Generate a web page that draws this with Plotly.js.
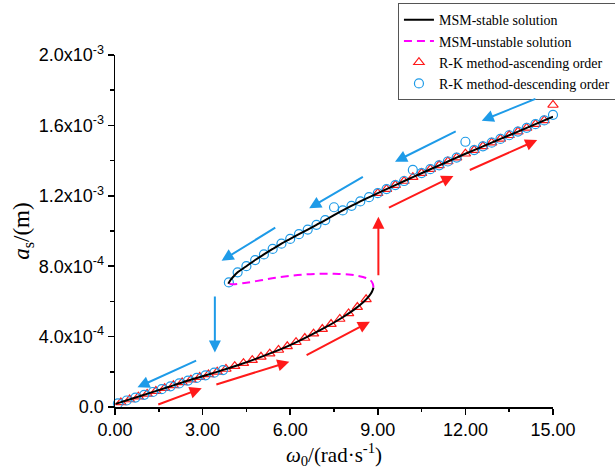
<!DOCTYPE html>
<html>
<head>
<meta charset="utf-8">
<script src="https://cdn.plot.ly/plotly-3.0.1.min.js"></script>
<style>html,body{margin:0;padding:0;background:#fff;overflow:hidden;}#chart{width:615px;height:472px;}</style>
</head>
<body>
<div id="chart"></div>
<script>
// ---- MSM stable solution: lower branch ----
const lowerX = [0.02, 0.6, 1.2, 1.8, 2.4, 3.0, 3.6, 4.2, 4.8, 5.4, 6.0, 6.6, 7.2, 7.8, 8.2, 8.5, 8.7, 8.8, 8.85];
const lowerY = [0.18e-4, 0.48e-4, 0.80e-4, 1.12e-4, 1.45e-4, 1.75e-4, 2.05e-4, 2.37e-4, 2.72e-4, 3.10e-4, 3.52e-4, 4.00e-4, 4.52e-4, 5.10e-4, 5.55e-4, 5.95e-4, 6.30e-4, 6.55e-4, 6.78e-4];
// ---- MSM stable solution: upper branch ----
const upperX = [3.88, 3.95, 4.05, 4.2, 4.5, 4.8, 5.1, 5.4, 5.7, 6.0, 6.3, 6.6, 6.9, 7.2, 7.5, 7.8, 8.4, 9.0, 9.6, 10.2, 10.8, 11.4, 12.0, 12.6, 13.2, 13.8, 14.4, 15.0];
const upperY = [7.00e-4, 7.20e-4, 7.40e-4, 7.65e-4, 8.00e-4, 8.35e-4, 8.67e-4, 8.98e-4, 9.28e-4, 9.55e-4, 9.82e-4, 10.08e-4, 10.35e-4, 10.62e-4, 10.90e-4, 11.17e-4, 11.68e-4, 12.15e-4, 12.61e-4, 13.06e-4, 13.51e-4, 13.95e-4, 14.39e-4, 14.81e-4, 15.23e-4, 15.65e-4, 16.07e-4, 16.50e-4];
// ---- MSM unstable solution ----
const unstableX = [8.85, 8.83, 8.75, 8.6, 8.3, 8.0, 7.5, 7.0, 6.5, 6.0, 5.5, 5.0, 4.5, 4.1, 3.88];
const unstableY = [6.78e-4, 7.00e-4, 7.20e-4, 7.33e-4, 7.46e-4, 7.53e-4, 7.57e-4, 7.57e-4, 7.53e-4, 7.45e-4, 7.34e-4, 7.20e-4, 7.06e-4, 6.98e-4, 7.00e-4];
// ---- R-K ascending order (triangles) ----
const ascX = [0.2, 0.5, 0.8, 1.1, 1.4, 1.7, 2.0, 2.3, 2.6, 2.9, 3.2, 3.5, 3.8, 4.1, 4.4, 4.7, 5.0, 5.3, 5.6, 5.9, 6.2, 6.5, 6.8, 7.1, 7.4, 7.7, 8.0, 8.3, 8.6,
              9.0, 9.3, 9.6, 9.9, 10.2, 10.5, 10.8, 11.1, 11.4, 11.7, 12.0, 12.3, 12.6, 12.9, 13.2, 13.5, 13.8, 14.1, 14.4, 14.7, 15.0];
const ascY = [0.26e-4, 0.425e-4, 0.585e-4, 0.745e-4, 0.905e-4, 1.067e-4, 1.23e-4, 1.395e-4, 1.55e-4, 1.70e-4, 1.85e-4, 2.00e-4, 2.16e-4, 2.32e-4, 2.49e-4, 2.66e-4, 2.85e-4, 3.03e-4, 3.24e-4, 3.45e-4, 3.68e-4, 3.92e-4, 4.17e-4, 4.43e-4, 4.71e-4, 5.00e-4, 5.32e-4, 5.68e-4, 6.12e-4,
              12.15e-4, 12.38e-4, 12.61e-4, 12.84e-4, 13.06e-4, 13.29e-4, 13.51e-4, 13.73e-4, 13.95e-4, 14.17e-4, 14.39e-4, 14.60e-4, 14.81e-4, 15.02e-4, 15.23e-4, 15.44e-4, 15.65e-4, 15.86e-4, 16.07e-4, 16.28e-4, 17.16e-4];
// ---- R-K descending order (circles) ----
const descX = [15.0, 14.7, 14.4, 14.1, 13.8, 13.5, 13.2, 12.9, 12.6, 12.3, 12.0, 11.7, 11.4, 11.1, 10.8, 10.5, 10.2, 9.9, 9.6, 9.3, 9.0, 8.7, 8.4, 8.1, 7.8, 7.5, 7.2, 6.9, 6.6, 6.3, 6.0, 5.7, 5.4, 5.1, 4.8, 4.5, 4.2, 3.9,
               3.7, 3.4, 3.1, 2.8, 2.5, 2.2, 1.9, 1.6, 1.3, 1.0, 0.7, 0.4, 0.1];
const descY = [16.6e-4, 16.28e-4, 16.07e-4, 15.86e-4, 15.65e-4, 15.44e-4, 15.23e-4, 15.02e-4, 14.81e-4, 14.60e-4, 15.07e-4, 14.17e-4, 13.95e-4, 13.73e-4, 13.51e-4, 13.29e-4, 13.47e-4, 12.84e-4, 12.61e-4, 12.38e-4, 12.15e-4, 11.92e-4, 11.68e-4, 11.43e-4, 11.17e-4, 11.35e-4, 10.62e-4, 10.35e-4, 10.08e-4, 9.82e-4, 9.55e-4, 9.28e-4, 8.98e-4, 8.67e-4, 8.35e-4, 8.00e-4, 7.65e-4, 7.08e-4,
               2.10e-4, 1.95e-4, 1.80e-4, 1.65e-4, 1.50e-4, 1.34e-4, 1.175e-4, 1.013e-4, 0.853e-4, 0.693e-4, 0.533e-4, 0.37e-4, 0.205e-4];
// ---- axis ticks ----
const xTickVals = [0, 3, 6, 9, 12, 15];
const xTickText = ["0.00", "3.00", "6.00", "9.00", "12.00", "15.00"];
const yTickVals = [0, 4e-4, 8e-4, 12e-4, 16e-4, 20e-4];
const yTickText = ["0.0", "4.0x10<sup>-4</sup>", "8.0x10<sup>-4</sup>", "1.2x10<sup>-3</sup>", "1.6x10<sup>-3</sup>", "2.0x10<sup>-3</sup>"];
// ---- direction arrows: [tailX, tailY, headX, headY] ----
const redArrows = [
  [1.43, 0.11e-4, 2.97, 1.06e-4],
  [3.42, 1.25e-4, 5.97, 2.57e-4],
  [6.51, 2.90e-4, 8.73, 4.85e-4],
  [9.02, 7.40e-4, 9.02, 10.81e-4],
  [9.33, 11.29e-4, 11.59, 13.13e-4],
  [12.1, 13.43e-4, 14.46, 15.17e-4]
];
const blueArrows = [
  [14.45, 17.54e-4, 12.56, 16.27e-4],
  [11.72, 15.70e-4, 9.59, 13.94e-4],
  [8.54, 13.13e-4, 6.65, 11.29e-4],
  [5.54, 10.24e-4, 3.65, 8.31e-4],
  [3.42, 6.36e-4, 3.42, 3.09e-4],
  [2.83, 2.67e-4, 0.77, 1.12e-4]
];

const RED = "#ff1a1a", BLUE = "#1e9be8", MAG = "#ff00ff";
const serif = "Liberation Serif, Times New Roman, serif";
const sans = "Liberation Sans, Arial, sans-serif";

const traces = [
  {x: ascX, y: ascY, mode: "markers", type: "scatter", name: "R-K method-ascending order", legendrank: 3, cliponaxis: false,
   marker: {symbol: "triangle-up-open", size: 9, color: RED, line: {width: 1.2, color: RED}}},
  {x: descX, y: descY, mode: "markers", type: "scatter", name: "R-K method-descending order", legendrank: 4, cliponaxis: false,
   marker: {symbol: "circle-open", size: 9, color: BLUE, line: {width: 1.2, color: BLUE}}},
  {x: unstableX, y: unstableY, mode: "lines", type: "scatter", name: "MSM-unstable solution", legendrank: 2,
   line: {color: MAG, width: 2, dash: "8px,5px", shape: "spline"}},
  {x: lowerX.concat([null], upperX), y: lowerY.concat([null], upperY), mode: "lines", type: "scatter", name: "MSM-stable solution", legendrank: 1,
   connectgaps: false, line: {color: "#000", width: 2, shape: "spline"}}
];

const annotations = [];
function addArrows(list, color) {
  list.forEach(a => annotations.push({
    x: a[2], y: a[3], ax: a[0], ay: a[1], xref: "x", yref: "y", axref: "x", ayref: "y",
    text: "", showarrow: true, arrowhead: 2, arrowsize: 1.2, arrowwidth: 2, arrowcolor: color, standoff: 0, startstandoff: 0
  }));
}
addArrows(redArrows, RED);
addArrows(blueArrows, BLUE);

const layout = {
  width: 615, height: 472,
  margin: {l: 115, r: 62, t: 55, b: 65, autoexpand: false},
  paper_bgcolor: "#fff", plot_bgcolor: "#fff",
  showlegend: true,
  legend: {x: 0.646, y: 1.147, xanchor: "left", yanchor: "top", bgcolor: "#fff", bordercolor: "#555", borderwidth: 1,
           font: {family: serif, size: 14, color: "#000"}, tracegroupgap: 0},
  xaxis: {range: [0, 15], tickvals: xTickVals, ticktext: xTickText, ticks: "outside", ticklen: 6, tickwidth: 1.5, tickcolor: "#000",
          showline: true, linecolor: "#000", linewidth: 1.5, showgrid: false, zeroline: false,
          minor: {dtick: 1.5, tick0: 0, ticks: "outside", ticklen: 3.5, tickwidth: 1.5, tickcolor: "#000", showgrid: false},
          tickfont: {family: sans, size: 18, color: "#000"},
          title: {text: "<i>ω</i><sub>0</sub>/(rad·s<sup>-1</sup>)", font: {family: serif, size: 21, color: "#000"}, standoff: 8}},
  yaxis: {range: [0, 20e-4], tickvals: yTickVals, ticktext: yTickText, ticks: "outside", ticklen: 6, tickwidth: 1.5, tickcolor: "#000",
          showline: true, linecolor: "#000", linewidth: 1.5, showgrid: false, zeroline: false,
          minor: {dtick: 2e-4, tick0: 0, ticks: "outside", ticklen: 3.5, tickwidth: 1.5, tickcolor: "#000", showgrid: false},
          tickfont: {family: sans, size: 18, color: "#000"},
          title: {text: "<i>a</i><sub>s</sub>/(m)", font: {family: serif, size: 23, color: "#000"}, standoff: 2}},
  annotations: annotations
};

Plotly.newPlot("chart", traces, layout, {displayModeBar: false, staticPlot: true});
</script>
</body>
</html>
